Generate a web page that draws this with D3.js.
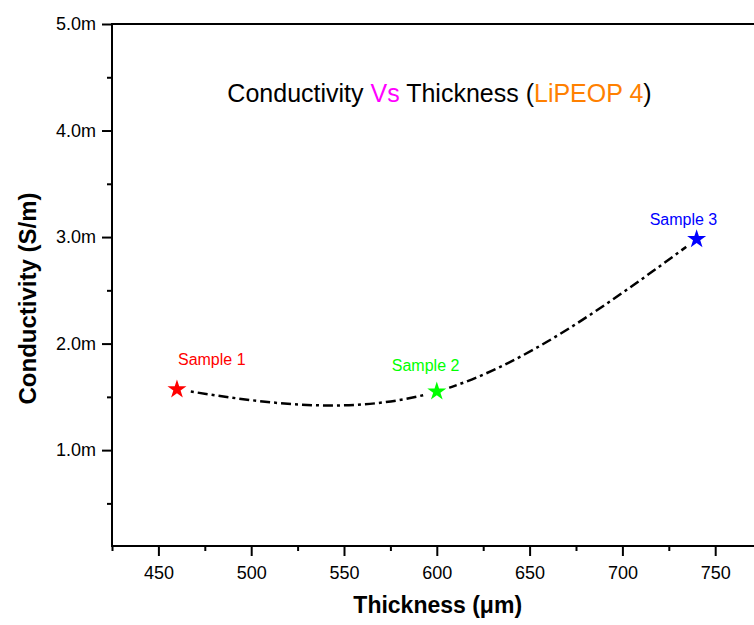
<!DOCTYPE html>
<html>
<head>
<meta charset="utf-8">
<script src="https://cdn.jsdelivr.net/npm/d3@7"></script>
<style>
  body { margin: 0; background: #fff; }
  svg { display: block; font-family: "Liberation Sans", Arial, sans-serif; }
</style>
</head>
<body>
<div id="chart"></div>
<script>
// data
const thickness = [460, 600, 740];          // µm
const conductivity = [1.57, 1.55, 2.98];    // mS/m
const sampleNames = ["Sample 1", "Sample 2", "Sample 3"];
const sampleColors = ["#ff0000", "#00ff00", "#0000ff"];

const xMajor = [450, 500, 550, 600, 650, 700, 750];
const xMinor = [425, 475, 525, 575, 625, 675, 725, 775];
const yMajor = [1.0, 2.0, 3.0, 4.0, 5.0];
const yMinor = [0.5, 1.5, 2.5, 3.5, 4.5];

const titleParts = [
  { text: "Conductivity ", color: "#000" },
  { text: "Vs", color: "#ff00ff" },
  { text: " Thickness (", color: "#000" },
  { text: "LiPEOP 4", color: "#ff8000" },
  { text: ")", color: "#000" }
];

const W = 754, H = 625;
const plotLeft = 112, plotTop = 24, plotBottom = 546;

const svg = d3.select("#chart").append("svg")
  .attr("width", W).attr("height", H);

const x = d3.scaleLinear().domain([425, 775]).range([plotLeft, plotLeft + 350 * 1.856]);
const y = d3.scaleLinear().domain([0.1, 5.0]).range([plotBottom, plotTop]);

// minor ticks first
svg.append("g")
  .attr("transform", "translate(0," + plotBottom + ")")
  .call(d3.axisBottom(x).tickValues(xMinor).tickSize(5).tickSizeOuter(0).tickFormat(""))
  .call(g => g.select(".domain").remove())
  .selectAll("line").attr("stroke-width", 2);

svg.append("g")
  .attr("transform", "translate(" + plotLeft + ",0)")
  .call(d3.axisLeft(y).tickValues(yMinor).tickSize(5).tickSizeOuter(0).tickFormat(""))
  .call(g => g.select(".domain").remove())
  .selectAll("line").attr("stroke-width", 2);

// major ticks with labels
const gx = svg.append("g")
  .attr("transform", "translate(0," + plotBottom + ")")
  .call(d3.axisBottom(x).tickValues(xMajor).tickSize(10).tickSizeOuter(0).tickPadding(10).tickFormat(d3.format("d")));
gx.select(".domain").remove();
gx.selectAll("line").attr("stroke-width", 2);
gx.selectAll("text").attr("font-size", 18).attr("font-family", null).attr("fill", "#000");

const gy = svg.append("g")
  .attr("transform", "translate(" + plotLeft + ",0)")
  .call(d3.axisLeft(y).tickValues(yMajor).tickSize(10).tickSizeOuter(0).tickPadding(6).tickFormat(d => d.toFixed(1) + "m"));
gy.select(".domain").remove();
gy.selectAll("line").attr("stroke-width", 2);
gy.selectAll("text").attr("font-size", 18).attr("font-family", null).attr("fill", "#000");

// frame: left, bottom, top
const frame = svg.append("g").attr("stroke", "#000").attr("stroke-width", 2);
frame.append("line").attr("x1", plotLeft).attr("x2", plotLeft).attr("y1", plotTop).attr("y2", plotBottom + 1);
frame.append("line").attr("x1", plotLeft - 1).attr("x2", x(775)).attr("y1", plotBottom).attr("y2", plotBottom);
frame.append("line").attr("x1", plotLeft - 1).attr("x2", x(775)).attr("y1", plotTop).attr("y2", plotTop);

// spline through the samples
const pts = thickness.map((t, i) => [t, conductivity[i]]);
svg.append("path")
  .datum(pts)
  .attr("fill", "none")
  .attr("stroke", "#000")
  .attr("stroke-width", 2.5)
  .attr("stroke-dasharray", "10,4,3,4")
  .attr("d", d3.line().curve(d3.curveNatural)
    .x(d => x(d[0]))
    .y(d => y(d[1])));

// markers with a small gap around them
const star = d3.symbol().type(d3.symbolStar).size(112);
const marks = svg.append("g").selectAll("g")
  .data(pts)
  .join("g")
  .attr("transform", d => "translate(" + x(d[0]) + "," + y(d[1]) + ")");
marks.append("circle").attr("r", 13).attr("fill", "#fff");
marks.append("path").attr("d", star).attr("fill", (d, i) => sampleColors[i]);

// sample labels
const labelDx = [1, -45, -47];
const labelDy = [-24, -21, -14];
svg.append("g").selectAll("text")
  .data(pts)
  .join("text")
  .attr("x", (d, i) => x(d[0]) + labelDx[i])
  .attr("y", (d, i) => y(d[1]) + labelDy[i])
  .attr("font-size", 16)
  .attr("fill", (d, i) => sampleColors[i])
  .text((d, i) => sampleNames[i]);

// title
svg.append("text")
  .attr("x", 439.5).attr("y", 102)
  .attr("text-anchor", "middle")
  .attr("font-size", 25)
  .selectAll("tspan")
  .data(titleParts)
  .join("tspan")
  .attr("fill", d => d.color)
  .style("white-space", "pre")
  .text(d => d.text);

// axis titles
svg.append("text")
  .attr("x", 437.7).attr("y", 613)
  .attr("text-anchor", "middle")
  .attr("font-size", 23).attr("font-weight", "bold")
  .text("Thickness (\u03bcm)");

svg.append("text")
  .attr("transform", "translate(36,298.5) rotate(-90)")
  .attr("text-anchor", "middle")
  .attr("font-size", 24).attr("font-weight", "bold")
  .text("Conductivity (S/m)");
</script>
</body>
</html>
